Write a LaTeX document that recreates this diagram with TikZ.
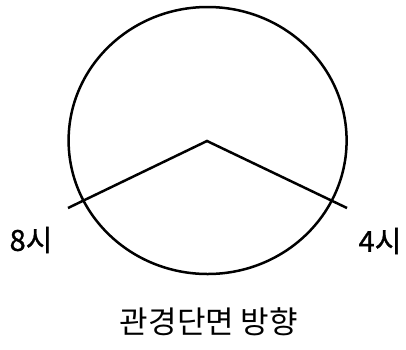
\documentclass[tikz,border=0pt]{standalone}
\usepackage{fontspec}
\usetikzlibrary{shapes.geometric}
\newfontfamily\kr{Noto Sans CJK KR}
\newfontfamily\krb[FakeBold=0.9]{Noto Sans CJK KR}
\begin{document}
\begin{tikzpicture}[x=1pt,y=-1pt,
  strokeline/.style={line width=2.5pt,line join=miter},
  lbl/.style={font=\krb\fontsize{29}{32}\selectfont,inner sep=0pt},
  captext/.style={font=\kr\fontsize{31}{34}\selectfont,inner sep=0pt}]
\useasboundingbox (0,0) rectangle (406,349);
\node[draw,strokeline,ellipse,minimum width=278pt,minimum height=267pt,inner sep=0pt] (c) at (207.6,140.5) {};
\coordinate (apex) at (207,141);
\coordinate (l) at (68,208);
\coordinate (r) at (347,208);
\draw[strokeline] (l) -- (apex) -- (r);
\node[lbl] (p8) at (31,240) {8시};
\node[lbl] (p4) at (380,241) {4시};
\node[captext] (t) at (209,322) {관경단면 방향};
\end{tikzpicture}
\end{document}
